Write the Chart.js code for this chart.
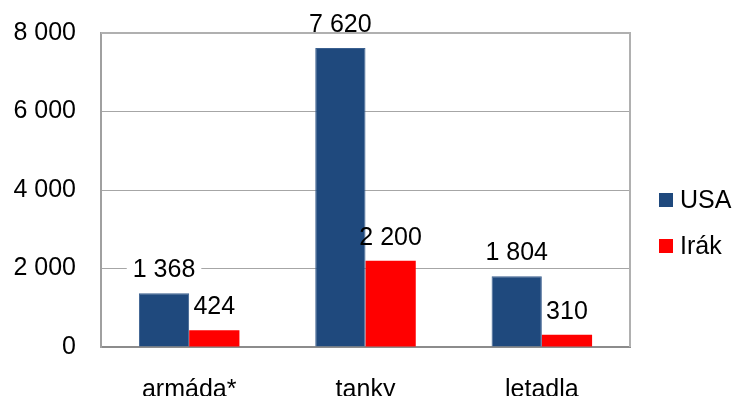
<!DOCTYPE html>
<html>
<head>
<meta charset="utf-8">
<script src="https://cdn.jsdelivr.net/npm/chart.js@4"></script>
<style>
  html, body { margin: 0; padding: 0; background: #fff; }
</style>
</head>
<body>
<canvas id="chart" width="736" height="396"></canvas>
<script>
const categories = ['armáda*', 'tanky', 'letadla'];
const usaValues = [1368, 7620, 1804];
const irakValues = [424, 2200, 310];
const seriesNames = ['USA', 'Irák'];
const yTicks = [0, 2000, 4000, 6000, 8000];

const FONT = "'Liberation Sans', Arial, sans-serif";
const FONT_SIZE = 25;

function fmt(v) {
    return String(v).replace(/\B(?=(\d{3})+(?!\d))/g, ' ');
}

function eachLabel(chart, fn) {
    chart.data.datasets.forEach((ds, i) => {
        chart.getDatasetMeta(i).data.forEach((bar, j) => {
            fn(fmt(ds.data[j]), bar.x, bar.y - 23);
        });
    });
}

// value labels: white box goes under the bars, text on top
const labelsPlugin = {
    id: 'labels',
    beforeDatasetsDraw(chart) {
        const ctx = chart.ctx;
        ctx.save();
        ctx.font = FONT_SIZE + 'px ' + FONT;
        ctx.fillStyle = '#fff';
        eachLabel(chart, (text, x, y) => {
            const w = ctx.measureText(text).width;
            ctx.fillRect(x - w / 2 - 6, y - 13, w + 12, 26);
        });
        ctx.restore();
    },
    afterDatasetsDraw(chart) {
        const ctx = chart.ctx;
        ctx.save();
        ctx.font = FONT_SIZE + 'px ' + FONT;
        ctx.textAlign = 'center';
        ctx.textBaseline = 'middle';
        ctx.fillStyle = '#000';
        eachLabel(chart, (text, x, y) => ctx.fillText(text, x, y));

        // legend
        ctx.textAlign = 'left';
        const legendY = [200, 246];
        chart.data.datasets.forEach((ds, i) => {
            ctx.fillStyle = ds.backgroundColor;
            ctx.fillRect(659, legendY[i] - 7, 14, 14);
            ctx.fillStyle = '#000';
            ctx.fillText(ds.label, 680, legendY[i] + 1);
        });
        ctx.restore();
    }
};

new Chart(document.getElementById('chart'), {
    type: 'bar',
    data: {
        labels: categories,
        datasets: [
            { label: seriesNames[0], data: usaValues, backgroundColor: '#1F497D', borderColor: '#3A5F8F', borderWidth: 1 },
            { label: seriesNames[1], data: irakValues, backgroundColor: '#FF0000' }
        ]
    },
    options: {
        responsive: false,
        animation: false,
        devicePixelRatio: 1,
        layout: { padding: { top: 33, right: 106, left: 0, bottom: 0 } },
        datasets: {
            bar: { categoryPercentage: 0.57, barPercentage: 1 }
        },
        plugins: {
            legend: { display: false },
            tooltip: { enabled: false }
        },
        scales: {
            x: {
                grid: { display: false },
                border: { color: '#8C8C8C', width: 2 },
                ticks: { color: '#000', font: { family: FONT, size: FONT_SIZE }, padding: 20 },
                afterFit(scale) { scale.height = 49; scale.paddingLeft = 0; scale.paddingRight = 0; }
            },
            y: {
                min: 0,
                max: 8000,
                afterBuildTicks(scale) { scale.ticks = yTicks.map(v => ({ value: v })); },
                grid: { color: '#A6A6A6', lineWidth: 1, tickLength: 0 },
                border: { color: '#A0A0A0', width: 2 },
                ticks: {
                    color: '#000',
                    font: { family: FONT, size: FONT_SIZE },
                    padding: 25,
                    callback: v => fmt(v)
                },
                afterFit(scale) { scale.width = 101; scale.paddingTop = 0; scale.paddingBottom = 0; }
            }
        }
    },
    plugins: [labelsPlugin, {
        id: 'frame',
        afterDraw(chart) {
            const a = chart.chartArea;
            const ctx = chart.ctx;
            ctx.save();
            ctx.strokeStyle = '#B0B0B0';
            ctx.lineWidth = 2;
            ctx.beginPath();
            ctx.moveTo(a.left, a.top);
            ctx.lineTo(a.right, a.top);
            ctx.lineTo(a.right, a.bottom);
            ctx.stroke();
            ctx.restore();
        }
    }]
});
</script>
</body>
</html>
